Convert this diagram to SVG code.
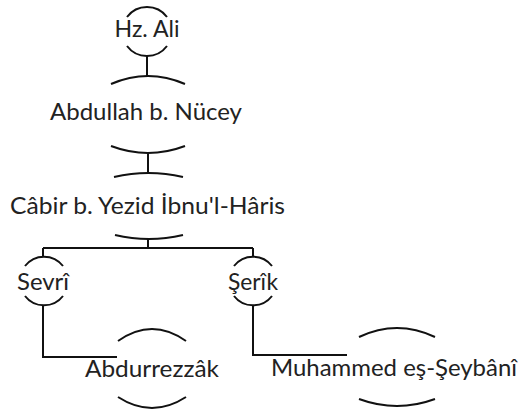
<svg xmlns="http://www.w3.org/2000/svg" width="528" height="415" viewBox="0 0 528 415">
<style>
text{font-family:Lato,"Open Sans","Liberation Sans",sans-serif;font-size:24px;fill:#222;text-anchor:middle}
.arc,.edge{fill:none;stroke:#111;stroke-width:2}
</style>
<rect width="528" height="415" fill="#fff"/>
<g id="connectors">
<path class="edge" d="M147,56 V76"/>
<path class="edge" d="M148,153 V174"/>
<path class="edge" d="M148,239 V248 M43,248 H253 M43,248 V257 M253,248 V257"/>
<path class="edge" d="M43,305 V357 H117"/>
<path class="edge" d="M253,305 V355 H347"/>
</g>
<g id="hz-ali">
<path class="arc" d="M127,17 A25 25 0 0 1 167,17"/>
<path class="arc" d="M127,46 A25 25 0 0 0 167,46"/>
<text x="147" y="37" textLength="65" lengthAdjust="spacingAndGlyphs">Hz. Ali</text>
</g>
<g id="abdullah">
<path class="arc" d="M111,84 Q148,68 185,84"/>
<path class="arc" d="M111,146 Q148,160 185,146"/>
<text x="146" y="120" textLength="192" lengthAdjust="spacingAndGlyphs">Abdullah b. Nücey</text>
</g>
<g id="cabir">
<path class="arc" d="M114,177 Q148.5,169 183,177"/>
<path class="arc" d="M115,235 Q149,243 183,235"/>
<text x="147.5" y="214" textLength="275" lengthAdjust="spacingAndGlyphs">Câbir b. Yezid İbnu'l-Hâris</text>
</g>
<g id="sevri">
<path class="arc" d="M25,266 A24 24 0 0 1 63,266"/>
<path class="arc" d="M25,296 A24 24 0 0 0 63,296"/>
<text x="43" y="290" textLength="52" lengthAdjust="spacingAndGlyphs">Sevrî</text>
</g>
<g id="serik">
<path class="arc" d="M234,266 A24 24 0 0 1 272,266"/>
<path class="arc" d="M234,296 A24 24 0 0 0 272,296"/>
<text x="253" y="290" textLength="50" lengthAdjust="spacingAndGlyphs">Şerîk</text>
</g>
<g id="abdurrezzak">
<path class="arc" d="M118,341 Q152,317 186,341"/>
<path class="arc" d="M118,397 Q152,419 186,397"/>
<text x="152" y="377" textLength="134" lengthAdjust="spacingAndGlyphs">Abdurrezzâk</text>
</g>
<g id="muhammed">
<path class="arc" d="M359,337 Q397,319 435,337"/>
<path class="arc" d="M359,399 Q397,413 435,399"/>
<text x="394" y="376" textLength="246" lengthAdjust="spacingAndGlyphs">Muhammed eş-Şeybânî</text>
</g>
</svg>
